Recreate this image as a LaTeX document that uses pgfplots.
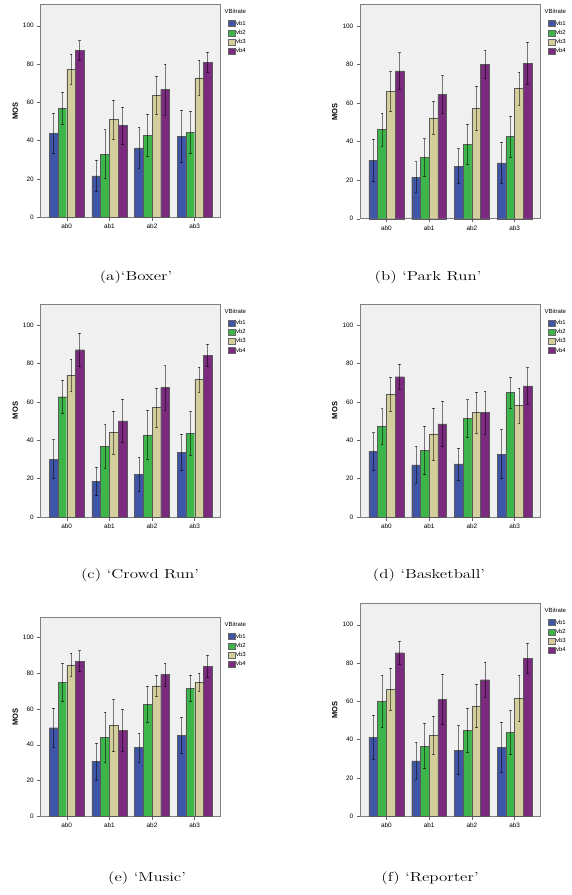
\documentclass[border=0pt]{standalone}
\usepackage{fontspec}
\usepackage{pgfplots}
\usepackage{pgfplotstable}
\pgfplotsset{compat=1.18}
\newfontfamily\arial{Liberation Sans}

\definecolor{cvbone}{HTML}{3F56A8}
\definecolor{cvbtwo}{HTML}{3DB54A}
\definecolor{cvbthree}{HTML}{D4CE9D}
\definecolor{cvbfour}{HTML}{7B2A7F}
\definecolor{plotbg}{HTML}{F0F0F0}

% MOS per audio bitrate (ab) and video bitrate (vb), with CI half-widths
\pgfplotstableread{
x  vb1  e1   vb2  e2   vb3  e3   vb4  e4
0  43.8 10.5 56.9 8.5  77.4 7.7  87.1 5.2
1  21.6 8.1  33.0 12.8 51.1 10.2 48.0 9.6
2  36.2 10.7 42.8 10.9 63.8 10.1 66.8 13.3
3  42.3 13.8 44.3 11.0 72.9 9.0  81.0 5.3
}\boxer
\pgfplotstableread{
x  vb1  e1   vb2  e2   vb3  e3   vb4  e4
0  30.2 11.0 46.3 8.5  66.1 10.2 76.7 9.4
1  21.6 8.0  31.8 9.8  52.3 8.5  64.4 9.8
2  27.3 9.0  38.7 10.2 57.2 11.4 80.0 7.3
3  29.0 10.6 42.7 10.6 67.5 8.5  80.5 10.9
}\parkrun
\pgfplotstableread{
x  vb1  e1   vb2  e2   vb3  e3   vb4  e4
0  30.2 10.1 62.7 8.8  74.0 8.3  87.2 8.8
1  18.7 7.5  36.9 11.3 44.0 11.3 50.1 11.2
2  22.2 9.0  42.8 12.8 57.0 10.3 67.4 11.5
3  33.8 9.6  43.5 11.4 71.6 6.6  84.4 5.7
}\crowdrun
\pgfplotstableread{
x  vb1  e1   vb2  e2   vb3  e3   vb4  e4
0  34.3 9.7  47.1 9.4  64.1 8.9  73.1 6.5
1  27.2 9.7  34.7 12.6 43.3 13.5 48.5 11.8
2  27.7 8.4  51.3 9.9  54.4 10.7 54.6 11.2
3  32.8 12.8 64.8 8.2  58.1 9.0  68.3 9.5
}\basketball
\pgfplotstableread{
x  vb1  e1   vb2  e2   vb3  e3   vb4  e4
0  49.5 11.0 74.9 10.8 84.7 6.3  86.8 5.8
1  30.7 10.4 44.3 13.8 50.7 14.5 48.0 11.7
2  38.4 8.0  62.6 10.0 73.0 5.8  79.3 6.5
3  45.4 10.0 71.5 7.4  75.0 5.2  83.8 6.3
}\music
\pgfplotstableread{
x  vb1  e1   vb2  e2   vb3  e3   vb4  e4
0  41.4 11.5 60.0 13.7 66.3 11.0 85.4 6.0
1  29.0 9.6  36.7 11.8 42.3 9.9  61.0 13.1
2  34.6 12.7 45.0 11.3 57.7 11.4 71.3 9.2
3  36.0 13.0 43.7 11.5 61.6 12.1 82.6 7.8
}\reporter

\pgfplotsset{
  mosbars/.style={
    scale only axis, clip=false,
    bar width=0.204,
    xmin=-0.61, xmax=3.61, ymin=0, ymax=111,
    xtick={0,1,2,3}, xticklabels={ab0,ab1,ab2,ab3},
    ytick={0,20,...,100},
    tick align=outside, xtick pos=bottom, ytick pos=left,
    major tick length=3.5pt,
    tick style={color=black!60, line width=0.4pt},
    axis line style={black!50, line width=0.6pt},
    axis background/.style={fill=plotbg},
    tick label style={font=\arial\fontsize{6.4}{7}\selectfont},
    /pgf/number format/assume math mode=true,
    ylabel={MOS},
    every axis y label/.style={at={(axis description cs:0,0.5)}, xshift=-25.5pt,
      rotate=90, anchor=center, font=\arial\bfseries\fontsize{7.5}{8}\selectfont},
    legend style={at={(axis description cs:1,1)}, anchor=north west,
      xshift=7pt, yshift=-15.2pt, draw=none, fill=none, inner sep=0pt,
      row sep=2.3pt, font=\arial\fontsize{6}{6.5}\selectfont,
      nodes={inner sep=0.8pt, text height=4.3pt, text depth=1pt}},
    legend cell align=left,
    legend image code/.code={\draw[##1, draw=black!60, line width=0.3pt] (0pt,-3pt) rectangle (7pt,3pt);},
  },
  vbar/.style={ybar, bar shift=#1, draw=black!65, line width=0.35pt},
  cibar/.style={forget plot, draw=none, mark=none,
    error bars/.cd, y dir=both, y explicit, error mark=none,
    error bar style={draw=black, opacity=0.5, line width=0.6pt}},
  cicap/.style={forget plot, only marks, mark=-, mark size=1.4pt,
    mark options={draw=black, opacity=0.6, line width=0.45pt}},
}
\tikzset{
  legtitle/.style={anchor=west, xshift=3.8pt, yshift=-7pt, inner sep=0pt,
    font=\arial\fontsize{6}{6.5}\selectfont},
}

% confidence interval of one series: #1 table, #2 x offset, #3 mean column, #4 half-width column
\newcommand{\ciseries}[4]{%
  \addplot[cibar] table[x expr=\thisrow{x}+#2, y=#3, y error=#4]{#1};
  \addplot[cicap] table[x expr=\thisrow{x}+#2, y expr=\thisrow{#3}+\thisrow{#4}]{#1};
  \addplot[cicap] table[x expr=\thisrow{x}+#2, y expr=\thisrow{#3}-\thisrow{#4}]{#1};}

% #1 table, #2 left, #3 bottom, #4 width, #5 height (pt, y measured downward)
\newcommand{\mospanel}[5]{%
  \begin{axis}[mosbars, at={(#2pt,-#3pt)}, anchor=south west, width=#4pt, height=#5pt]
    \addplot[vbar=-0.306, fill=cvbone]   table[x=x, y=vb1]{#1};
    \ciseries{#1}{-0.306}{vb1}{e1}
    \addplot[vbar=-0.102, fill=cvbtwo]   table[x=x, y=vb2]{#1};
    \ciseries{#1}{-0.102}{vb2}{e2}
    \addplot[vbar=0.102, fill=cvbthree]  table[x=x, y=vb3]{#1};
    \ciseries{#1}{0.102}{vb3}{e3}
    \addplot[vbar=0.306, fill=cvbfour]   table[x=x, y=vb4]{#1};
    \ciseries{#1}{0.306}{vb4}{e4}
    \legend{vb1,vb2,vb3,vb4}
    \node[legtitle] at (axis description cs:1,1) {VBitrate};
  \end{axis}}

\newcommand{\subcap}[1]{\fontsize{13}{15}\selectfont #1}

\begin{document}
\begin{tikzpicture}
  \path[use as bounding box] (0pt,0pt) rectangle (572pt,-895pt);

  \mospanel{\boxer}{40.7}{217.3}{180}{212.6}
  \mospanel{\parkrun}{360.3}{218.7}{180.4}{214}
  \mospanel{\crowdrun}{40.7}{517}{180}{213}
  \mospanel{\basketball}{360.3}{517}{180.4}{213}
  \mospanel{\music}{40.7}{816.3}{180}{198.6}
  \mospanel{\reporter}{360.3}{816.3}{180.4}{212.6}

  \node[xscale=1.3, transform shape] at (136pt,-277pt) {\subcap{(a)`Boxer'}};
  \node[xscale=1.3, transform shape] at (428pt,-277pt) {\subcap{(b) `Park Run'}};
  \node[xscale=1.3, transform shape] at (140pt,-575pt) {\subcap{(c) `Crowd Run'}};
  \node[xscale=1.3, transform shape] at (429pt,-575pt) {\subcap{(d) `Basketball'}};
  \node[xscale=1.3, transform shape] at (147pt,-878pt) {\subcap{(e) `Music'}};
  \node[xscale=1.3, transform shape] at (430pt,-878pt) {\subcap{(f) `Reporter'}};
\end{tikzpicture}
\end{document}
